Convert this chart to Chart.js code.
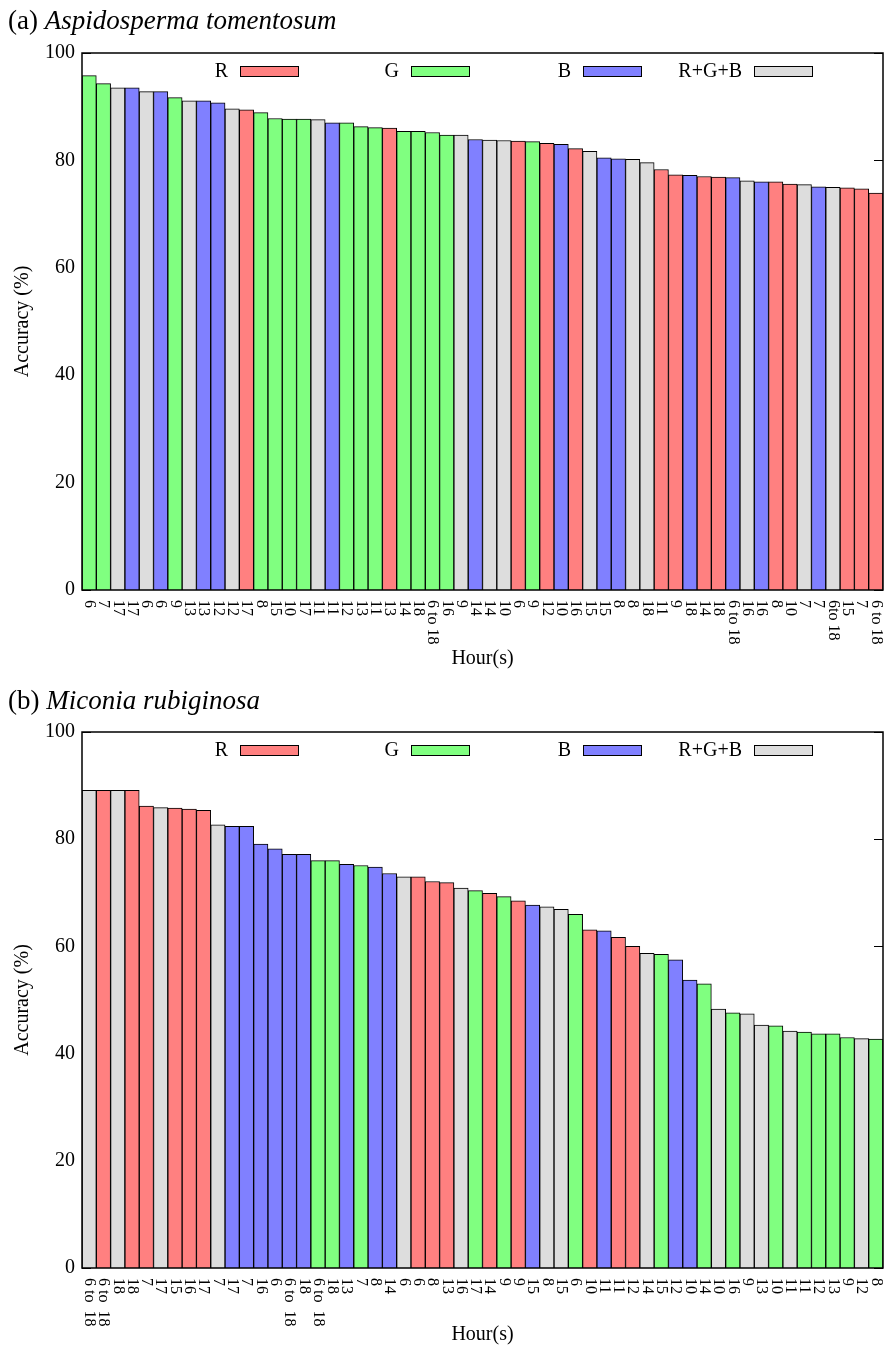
<!DOCTYPE html>
<html>
<head>
<meta charset="utf-8">
<title>Accuracy by hour</title>
<script src="https://cdn.jsdelivr.net/npm/chart.js@4.4.1/dist/chart.umd.min.js"></script>
<style>
  html, body { margin: 0; padding: 0; background: #fff; }
  body { width: 886px; height: 1352px; position: relative; font-family: "Liberation Serif", "Times New Roman", serif; }
  .panel { position: absolute; left: 0; width: 886px; height: 676px; }
  .panel canvas { position: absolute; left: 0; top: 0; }
  .cap { position: absolute; left: 8px; font-size: 27px; line-height: 32px; color: #000; z-index: 2; white-space: nowrap; }
</style>
</head>
<body>
<div class="panel" style="top:0">
  <div class="cap" style="top:4px">(a) <i>Aspidosperma tomentosum</i></div>
  <canvas id="chartA" width="886" height="676"></canvas>
</div>
<div class="panel" style="top:676px">
  <div class="cap" style="top:8px">(b) <i>Miconia rubiginosa</i></div>
  <canvas id="chartB" width="886" height="676"></canvas>
</div>
<script>
// (a) Aspidosperma tomentosum
const topLabels = ['6','7','17','17','6','6','9','13','13','12','12','17','8','15','10','17','11','11','12','13',
  '11','13','14','18','6 to 18','16','9','14','14','10','6','9','12','10','16','15','15','8','8','18',
  '11','9','18','14','18','6 to 18','16','16','8','10','7','7','6to 18','15','7','6 to 18'];
const topValues = [95.8, 94.3, 93.5, 93.5, 92.8, 92.8, 91.7, 91.1, 91.1, 90.7, 89.6, 89.4, 88.9, 87.8, 87.7, 87.7, 87.6, 87.0, 87.0, 86.3,
  86.1, 86.0, 85.4, 85.4, 85.2, 84.7, 84.7, 83.9, 83.8, 83.7, 83.6, 83.5, 83.2, 83.0, 82.2, 81.7, 80.5, 80.3, 80.2, 79.6,
  78.3, 77.3, 77.2, 77.0, 76.9, 76.8, 76.2, 76.0, 76.0, 75.6, 75.5, 75.1, 75.0, 74.9, 74.7, 73.9];
const topChannels = ['G','G','RGB','B','RGB','B','G','RGB','B','B','RGB','R','G','G','G','G','RGB','B','G','G',
  'G','R','G','G','G','G','RGB','B','RGB','RGB','R','G','R','B','R','RGB','B','B','RGB','RGB',
  'R','R','B','R','R','B','RGB','B','R','R','RGB','B','RGB','R','R','R'];

// (b) Miconia rubiginosa
const bottomLabels = ['6 to  18','6 to  18','18','18','7','17','15','16','17','7','17','7','16','6','6 to  18','18','6 to  18','18','13','7',
  '8','14','6','6','8','13','16','17','14','9','9','15','8','15','6','10','11','11','12','14',
  '15','12','10','14','10','16','9','13','10','11','11','12','13','9','12','8'];
const bottomValues = [89.1, 89.1, 89.1, 89.1, 86.2, 85.9, 85.8, 85.6, 85.4, 82.7, 82.4, 82.4, 79.1, 78.2, 77.2, 77.2, 76.0, 76.0, 75.3, 75.1,
  74.8, 73.6, 73.0, 73.0, 72.1, 71.9, 70.9, 70.4, 69.9, 69.3, 68.5, 67.7, 67.4, 66.9, 66.0, 63.1, 62.9, 61.7, 60.0, 58.7,
  58.5, 57.5, 53.7, 53.0, 48.3, 47.6, 47.4, 45.3, 45.2, 44.2, 44.0, 43.7, 43.7, 43.0, 42.8, 42.7];
const bottomChannels = ['RGB','R','RGB','R','R','RGB','R','R','R','RGB','B','B','B','B','B','B','G','G','B','G',
  'B','B','RGB','R','R','R','RGB','G','R','G','R','B','RGB','RGB','G','R','B','R','R','RGB',
  'G','B','B','G','RGB','G','RGB','RGB','G','RGB','G','G','G','G','RGB','G'];

const yTicks = [0, 20, 40, 60, 80, 100];
const legendKeys = ['R', 'G', 'B', 'RGB'];
const legendNames = ['R', 'G', 'B', 'R+G+B'];
const fill = { R: '#ff8080', G: '#80ff80', B: '#8080ff', RGB: '#dddddd' };

const SERIF = '"Liberation Serif", "Times New Roman", serif';

// gnuplot-like frame: inward ticks, border box, vertical hour labels, key inside the top
const frame = {
  id: 'frame',
  beforeDatasetsDraw(chart) {
    const { ctx, chartArea: a, scales: { y } } = chart;
    ctx.save();
    ctx.strokeStyle = '#000';
    ctx.lineWidth = 1;
    yTicks.forEach(v => {
      const py = Math.round(y.getPixelForValue(v)) + 0.5;
      ctx.beginPath();
      ctx.moveTo(a.left, py); ctx.lineTo(a.left + 9, py);
      ctx.moveTo(a.right, py); ctx.lineTo(a.right - 9, py);
      ctx.stroke();
    });
    ctx.restore();
  },
  afterDatasetsDraw(chart) {
    const { ctx, chartArea: a, scales: { x } } = chart;
    ctx.save();
    ctx.strokeStyle = '#000';
    ctx.lineWidth = 1.5;
    ctx.strokeRect(a.left, a.top, a.right - a.left, a.bottom - a.top);

    // hour labels, read top to bottom
    ctx.fillStyle = '#000';
    ctx.font = '16px ' + SERIF;
    ctx.textAlign = 'left';
    ctx.textBaseline = 'middle';
    chart.data.labels.forEach((lab, i) => {
      const px = x.getPixelForValue(i);
      ctx.save();
      ctx.translate(px, a.bottom + 10);
      ctx.rotate(Math.PI / 2);
      ctx.fillText(lab, 0, 0);
      ctx.restore();
    });

    // key
    ctx.font = '20px ' + SERIF;
    ctx.textAlign = 'right';
    ctx.lineWidth = 1;
    const ky = a.top + 18;
    legendKeys.forEach((k, i) => {
      const sx = Math.round(a.left + 158 + i * 171.3);
      ctx.fillStyle = '#000';
      ctx.fillText(legendNames[i], sx - 12, ky + 1);
      ctx.fillStyle = fill[k];
      ctx.fillRect(sx, ky - 5, 58, 10);
      ctx.strokeRect(sx + 0.5, ky - 5 + 0.5, 58, 10);
    });
    ctx.restore();
  }
};

function makeChart(id, labels, values, chans, padTop, xHeight) {
  const ctx = document.getElementById(id).getContext('2d');
  return new Chart(ctx, {
    type: 'bar',
    data: {
      labels: labels,
      datasets: [{
        data: values,
        backgroundColor: chans.map(c => fill[c]),
        borderColor: '#000',
        borderWidth: 1,
        barPercentage: 1,
        categoryPercentage: 1
      }]
    },
    options: {
      responsive: false,
      animation: false,
      layout: { padding: { top: padTop, right: 3, left: 0, bottom: 0 } },
      plugins: { legend: { display: false }, tooltip: { enabled: false } },
      scales: {
        x: {
          grid: { display: false, drawTicks: false },
          border: { display: false },
          ticks: { display: false },
          title: { display: true, text: 'Hour(s)', color: '#000', font: { family: SERIF, size: 20 }, padding: { top: 0, bottom: 5 } },
          afterFit(s) { s.height = xHeight; }
        },
        y: {
          min: 0,
          max: 100,
          grid: { display: false, drawTicks: false },
          border: { display: false },
          ticks: { stepSize: 20, color: '#000', padding: 7, font: { family: SERIF, size: 20 } },
          title: { display: true, text: 'Accuracy (%)', color: '#000', font: { family: SERIF, size: 20 }, padding: { top: 11, bottom: 0 } },
          afterFit(s) { s.width = 82; }
        }
      }
    },
    plugins: [frame]
  });
}

makeChart('chartA', topLabels, topValues, topChannels, 53, 86);
makeChart('chartB', bottomLabels, bottomValues, bottomChannels, 56, 84);
</script>
</body>
</html>
